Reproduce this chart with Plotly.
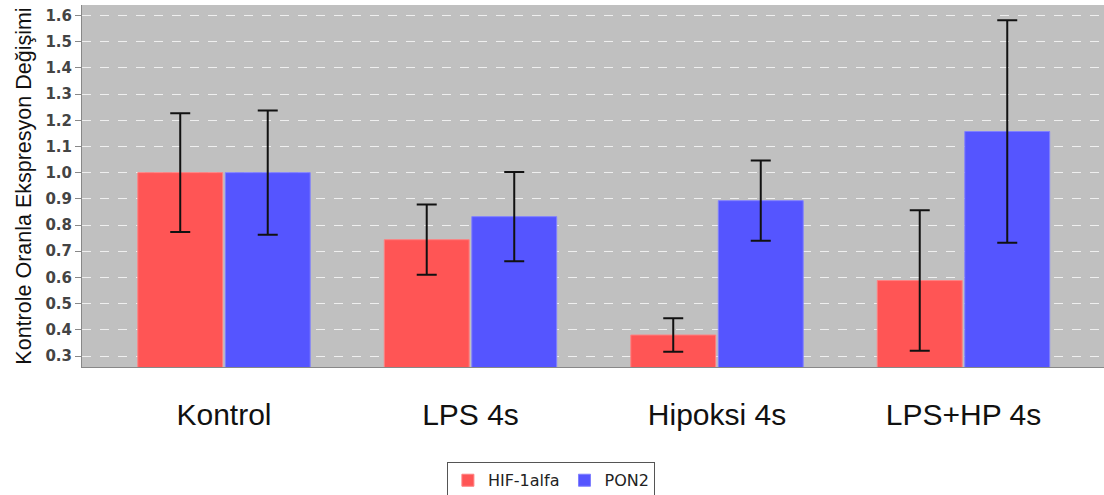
import plotly.graph_objects as go

categories = ["Kontrol", "LPS 4s", "Hipoksi 4s", "LPS+HP 4s"]
hif_values = [1.0, 0.744, 0.38, 0.588]
hif_errors = [0.227, 0.134, 0.064, 0.268]
pon_values = [1.0, 0.832, 0.893, 1.157]
pon_errors = [0.237, 0.170, 0.153, 0.425]
y_ticks = [0.3, 0.4, 0.5, 0.6, 0.7, 0.8, 0.9, 1.0, 1.1, 1.2, 1.3, 1.4, 1.5, 1.6]

fig = go.Figure()
fig.add_trace(go.Bar(
    x=categories, y=hif_values, name="HIF-1alfa",
    marker=dict(color="#ff5555", line=dict(color="#ff8080", width=1)),
    error_y=dict(type="data", array=hif_errors, visible=True,
                 color="#111111", thickness=2, width=10),
))
fig.add_trace(go.Bar(
    x=categories, y=pon_values, name="PON2",
    marker=dict(color="#5555ff", line=dict(color="#8080ff", width=1)),
    error_y=dict(type="data", array=pon_errors, visible=True,
                 color="#111111", thickness=2, width=10),
))

fig.update_layout(
    width=1104, height=495,
    margin=dict(l=82, r=0, t=5, b=128),
    paper_bgcolor="white",
    plot_bgcolor="#c0c0c0",
    barmode="group",
    bargap=0.29,
    bargroupgap=0.03,
    font=dict(family="Liberation Sans, Arial, sans-serif", color="#000000"),
    legend=dict(
        orientation="h",
        xref="container", yref="container",
        x=0.499, y=0.066, xanchor="center", yanchor="top",
        bordercolor="#555555", borderwidth=1,
        bgcolor="white",
        font=dict(family="DejaVu Sans, sans-serif", size=16, color="#222222"),
        itemwidth=30,
    ),
    showlegend=True,
)

fig.update_xaxes(
    type="category",
    range=[-0.576, 3.570],
    showgrid=False,
    showline=True, linecolor="#888888", linewidth=1,
    ticks="",
    ticklabelstandoff=21,
    tickfont=dict(size=30, family="Liberation Sans, Arial, sans-serif", color="#111111"),
)

fig.update_yaxes(
    range=[0.258, 1.64],
    tickvals=y_ticks,
    ticktext=[f"{v:.1f}" for v in y_ticks],
    showgrid=True, gridcolor="rgba(255,255,255,0.75)", griddash="dash", gridwidth=1,
    showline=True, linecolor="#888888", linewidth=1,
    ticks="outside", ticklen=6, tickcolor="#888888",
    tickfont=dict(size=15, family="DejaVu Sans, sans-serif", color="#444444", weight="bold"),
    zeroline=False,
    title=dict(text="Kontrole Oranla Ekspresyon Değişimi",
               font=dict(size=21.5, family="Liberation Sans, Arial, sans-serif", color="#111111"),
               standoff=7),
)

fig.write_html("out.html")
